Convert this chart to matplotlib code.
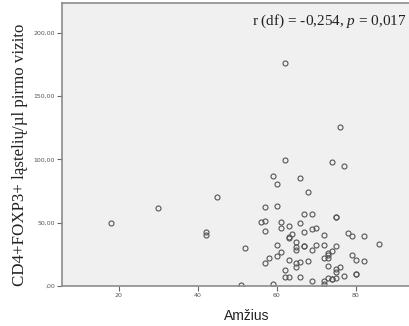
import matplotlib
matplotlib.use("Agg")
import matplotlib.pyplot as plt

plt.rcParams["mathtext.fontset"] = "custom"
plt.rcParams["mathtext.rm"] = "Liberation Serif"
plt.rcParams["mathtext.it"] = "Liberation Serif:italic"

# Age (years) and CD4+FOXP3+ cell count at the first visit
age = [18, 30, 42, 42, 45, 51, 52, 56, 57, 57, 57, 57, 58, 59, 59,
       60, 60, 60, 60, 61, 61, 61, 62, 62, 62, 62, 63, 63, 63, 63, 63,
       64, 65, 65, 65, 65, 65, 66, 66, 66, 66, 67, 67, 67, 67, 68, 68,
       69, 69, 69, 69, 70, 70, 72, 72, 72, 72, 72, 73, 73, 73, 73, 73,
       74, 74, 74, 74, 75, 75, 75, 75, 75, 75, 76, 76, 77, 77, 78, 79,
       79, 80, 80, 80, 82, 82, 86]
cells = [50.1, 61.4, 42.9, 40.3, 70.1, 1.0, 30.0, 50.3, 51.4, 62.2, 43.5, 18.4, 22.4, 87.0, 1.9,
         80.9, 63.0, 32.7, 23.5, 50.9, 45.8, 26.6, 176.0, 99.4, 12.6, 6.9, 47.7, 38.7, 38.2, 20.3, 6.9,
         40.9, 34.5, 30.8, 28.2, 17.9, 14.8, 85.6, 49.6, 18.7, 7.1, 57.2, 42.7, 31.9, 31.5, 74.5, 20.0,
         56.9, 45.1, 28.5, 4.2, 45.8, 32.7, 40.1, 32.2, 21.9, 4.0, 1.9, 26.3, 24.7, 21.9, 15.6, 6.3,
         98.3, 27.4, 5.5, 5.2, 54.8, 54.4, 31.9, 13.2, 11.3, 6.6, 125.9, 14.8, 94.6, 8.2, 41.6, 39.5,
         24.7, 20.6, 9.2, 9.6, 39.8, 19.8, 33.4]

x_ticks = [20, 40, 60, 80]
y_ticks = [0, 50, 100, 150, 200]
y_tick_labels = [",00", "50,00", "100,00", "150,00", "200,00"]

W, H = 410, 326
fig = plt.figure(figsize=(W / 100, H / 100), dpi=100)
# plot frame runs past the right edge of the figure
ax = fig.add_axes([62 / W, 40 / H, 369 / W, 283 / H])
ax.set_facecolor("#f0f0f0")

ax.plot(age, cells, linestyle="none", marker="o", markersize=3.6,
        markerfacecolor="none", markeredgecolor="#555555", markeredgewidth=0.8)

ax.set_xlim(5.65, 99.07)
ax.set_ylim(0, 223.7)
ax.set_xticks(x_ticks)
ax.set_xticklabels([str(t) for t in x_ticks])
ax.set_yticks(y_ticks)
ax.set_yticklabels(y_tick_labels)
ax.tick_params(axis="both", labelsize=4.5, colors="#666666", length=3.5,
               width=0.8, pad=1.5)
ax.tick_params(axis="both", labelcolor="#555555")

for side in ("left", "bottom", "top", "right"):
    ax.spines[side].set_color("#8c8c8c")
    ax.spines[side].set_linewidth(1.2)
ax.spines["right"].set_visible(False)

fig.text(246.7 / W, 1 - 316.5 / H, "Amžius", family="Liberation Sans",
         fontsize=10, color="#222222", ha="center", va="center")
fig.text(20 / W, 1 - 155 / H, "CD4+FOXP3+ ląstelių/µl pirmo vizito",
         family="Liberation Serif", fontsize=12.2, color="#222222",
         rotation=90, ha="center", va="center")

fig.text(251.7 / W, 1 - 24.5 / H, r"r (df) = -0,254, $\it{p}$ = $\it{0{,}017}$",
         family="Liberation Serif", fontsize=11, color="#222222",
         ha="left", va="baseline")

fig.savefig("out.png", dpi=100)
